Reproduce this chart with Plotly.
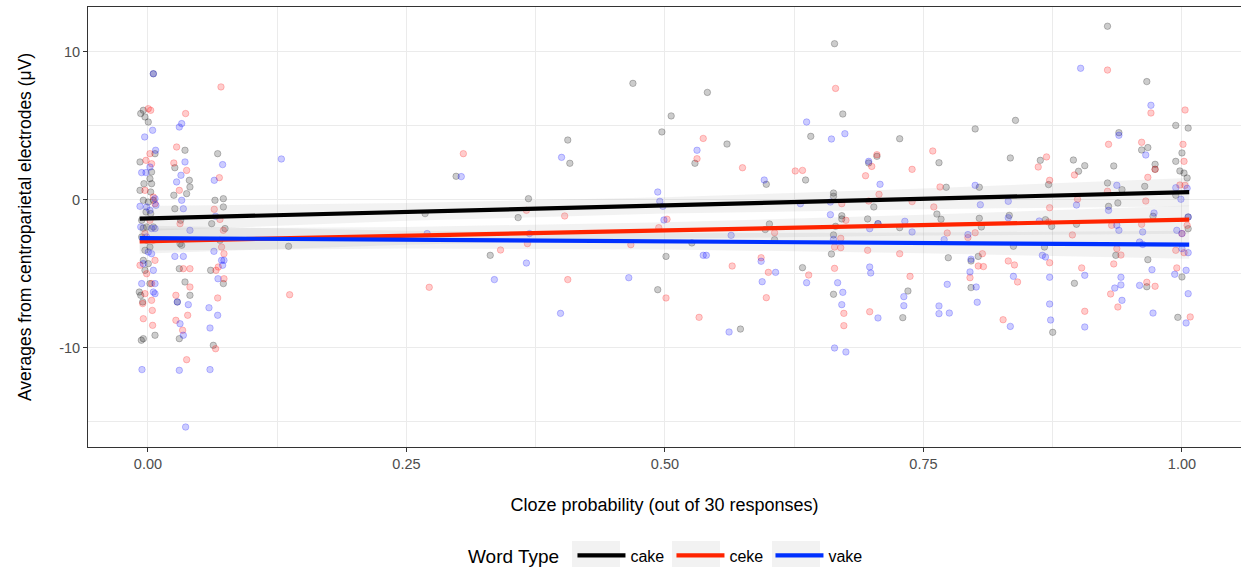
import plotly.graph_objects as go

# ---------------- data ----------------
cake_points = [
    (-0.0045, 6.06), (-0.007, 5.84), (-0.0029, 5.61), (0.0003, 5.27), (0.0068, 3.13), (-0.0077, 2.57),
    (0.0035, 1.89), (0.0019, 1.44), (-0.0039, 1.1), (0.0035, 1.1), (-0.0077, 0.65), (0.0026, 0.54),
    (-0.0045, -0.02), (0.0003, -0.14), (0.0052, -0.02), (-0.0019, -0.81), (0.0026, -0.92), (-0.0061, -1.37),
    (-0.0013, -1.82), (-0.0045, -1.9), (0.0052, -1.82), (-0.0061, -2.5), (-0.0013, -2.72), (0.0019, -3.18),
    (-0.0029, -3.4), (-0.0045, -4.08), (0.0003, -4.3), (-0.0029, -4.75), (0.0019, -5.65), (-0.0084, -6.22),
    (-0.007, -6.44), (-0.0051, -6.89), (-0.0064, -9.48), (-0.0045, -9.37), (0.0068, -9.14), (0.0052, 8.53),
    (0.0358, 3.36), (0.026, 2.18), (0.04, 1.33), (0.0406, 0.88), (0.0374, 0.43), (0.025, 0.32),
    (0.026, -0.59), (0.0316, -1.37), (0.031, -2.95), (0.0326, -3.06), (0.0303, -4.64), (0.0358, -5.54),
    (0.0406, -6.44), (0.0284, -6.89), (0.0303, -9.37),
    (0.0674, 3.13), (0.0729, 0.09), (0.0648, -0.02), (0.0729, -0.47), (0.0616, -1.6), (0.0745, -1.93),
    (0.0696, -2.72), (0.0729, -5.65), (0.0606, -4.75), (0.0632, -9.82),
    (0.136, -3.13), (0.298, 1.6), (0.268, -0.92), (0.331, -3.74), (0.358, -1.19), (0.368, 0.09),
    (0.406, 4.05), (0.408, 2.48), (0.469, 7.88), (0.497, 4.6), (0.506, 5.68), (0.501, -3.81),
    (0.493, -6.06), (0.541, 7.27), (0.529, 2.48), (0.526, -2.9), (0.56, 3.78), (0.573, -8.72),
    (0.598, 1.06), (0.601, -1.62), (0.597, -2.0), (0.606, -2.68), (0.636, 1.35), (0.633, -4.57),
    (0.641, 4.3), (0.664, 10.56), (0.672, 5.81), (0.663, 0.47), (0.663, 0.25), (0.671, -1.06),
    (0.671, -1.28), (0.665, -1.78), (0.663, -2.36), (0.661, -3.65), (0.663, -6.37), (0.705, 2.95),
    (0.697, 2.5), (0.702, -0.47), (0.696, -1.28), (0.706, -1.6), (0.727, 4.14), (0.727, -1.87),
    (0.735, -6.15), (0.73, -7.95), (0.765, 2.52), (0.772, 0.86), (0.763, -0.95), (0.767, -1.3),
    (0.774, -3.9), (0.8, 4.8), (0.804, 0.86), (0.804, -1.24), (0.806, -1.82), (0.803, -3.81),
    (0.796, -4.12), (0.796, -5.92), (0.839, 5.38), (0.834, 2.84), (0.833, -1.04), (0.837, -3.13),
    (0.863, 2.68), (0.871, 1.04), (0.868, -1.33), (0.874, -1.78), (0.867, -3.18), (0.875, -8.94),
    (0.895, 2.7), (0.906, 2.32), (0.9, 1.94), (0.898, -1.64), (0.896, -5.63), (0.928, 11.74),
    (0.934, 2.3), (0.939, 4.55), (0.928, 1.15), (0.942, 0.7), (0.938, -0.2), (0.929, -0.43),
    (0.936, -3.74), (0.966, 8.0), (0.967, 3.54), (0.961, 3.38), (0.974, 2.41), (0.974, 2.07),
    (0.964, 0.92), (0.972, -1.1), (0.967, -4.03), (0.966, -5.86), (0.994, 5.04), (1.006, 4.86),
    (1.0, 3.18), (0.994, 2.61), (0.998, 1.96), (1.002, 1.82), (1.005, 1.49), (0.994, 0.32),
    (1.006, -1.15), (1.006, -1.94), (1.0, -5.2), (0.996, -7.93),
]

ceke_points = [
    (0.0003, 6.17), (0.0026, 6.06), (0.0019, 3.13), (-0.0019, 2.68), (0.0035, 2.45), (-0.0029, 0.65),
    (0.0052, 0.2), (0.0068, -0.25), (0.0019, -1.37), (-0.0029, -2.27), (0.0052, -2.72), (-0.0077, -4.41),
    (0.0068, -4.08), (-0.0013, -4.98), (0.0035, -5.65), (-0.0029, -6.33), (0.0035, -6.78), (-0.0051, -7.0),
    (0.0042, -7.46), (-0.0045, -8.02), (0.0045, -8.47),
    (0.0364, 5.84), (0.0277, 3.58), (0.025, 2.5), (0.0374, 2.0), (0.0303, 0.65), (0.031, -1.6),
    (0.0342, -4.64), (0.0406, -4.64), (0.0406, -5.88), (0.027, -6.44), (0.027, -8.13), (0.0335, -8.8),
    (0.0384, -7.79), (0.0374, -10.79),
    (0.0706, 7.64), (0.069, 1.51), (0.0641, -0.63), (0.0696, -1.31), (0.0729, -2.05), (0.0712, -3.18),
    (0.0735, -3.63), (0.0658, -4.75), (0.068, -4.53), (0.0735, -5.32), (0.0674, -6.62), (0.0654, -10.05),
    (0.137, -6.4), (0.305, 3.13), (0.272, -5.9), (0.341, -3.38), (0.366, -0.7), (0.367, -2.95),
    (0.403, -1.08), (0.406, -5.38), (0.467, -3.02), (0.494, -1.87), (0.502, -1.3), (0.501, -6.62),
    (0.537, 4.16), (0.531, 2.79), (0.533, -7.93), (0.575, 2.18), (0.565, -4.46), (0.606, -2.21),
    (0.593, -3.9), (0.6, -4.89), (0.598, -6.6), (0.626, 1.96), (0.633, 2.0), (0.639, -5.07),
    (0.665, 7.54), (0.671, -0.25), (0.675, -1.37), (0.67, -2.59), (0.664, -3.18), (0.67, -3.22),
    (0.664, -4.62), (0.673, -7.66), (0.673, -8.49), (0.705, 3.06), (0.7, 2.27), (0.694, 1.64),
    (0.707, 0.38), (0.697, -0.07), (0.696, -3.4), (0.698, -7.55), (0.739, 2.07), (0.739, -0.11),
    (0.727, -3.63), (0.737, -5.16), (0.759, 3.31), (0.766, 0.88), (0.76, -0.47), (0.773, -2.23),
    (0.8, -2.21), (0.793, -2.54), (0.807, -3.63), (0.803, -4.46), (0.808, -4.5), (0.795, -5.25),
    (0.832, -4.12), (0.838, -4.39), (0.841, -5.54), (0.827, -8.09), (0.861, 2.23), (0.869, 2.91),
    (0.872, 1.33), (0.872, -0.52), (0.871, -1.49), (0.872, -4.24), (0.896, 1.69), (0.899, 0.05),
    (0.894, -2.36), (0.903, -4.59), (0.906, -7.52), (0.928, 8.78), (0.929, 3.76), (0.928, 0.59),
    (0.932, -1.71), (0.937, -3.29), (0.941, -3.72), (0.934, -4.32), (0.931, -6.35), (0.938, -7.23),
    (0.97, 5.88), (0.961, 3.9), (0.974, 2.07), (0.967, 1.53), (0.965, -0.07), (0.961, -1.64),
    (0.966, -5.56), (0.974, -5.83), (1.003, 6.08), (1.001, 3.76), (1.002, 2.61), (0.998, 1.01),
    (1.003, 0.99), (1.005, -1.71), (1.0, -2.27), (0.994, -3.4), (1.002, -3.56), (0.995, -4.59),
    (1.008, -7.9),
]

vake_points = [
    (0.0052, 8.53), (0.0045, 4.71), (-0.0032, 4.26), (0.0074, 3.36), (0.0019, 2.23), (-0.0061, 1.85),
    (-0.0019, 1.85), (0.0068, 0.09), (0.0077, -0.36), (-0.0077, -0.43), (-0.0013, -0.47), (0.0019, -0.7),
    (-0.007, -1.82), (0.0035, -1.93), (0.0068, -1.93), (-0.0013, -2.5), (0.0003, -3.51), (0.0035, -3.63),
    (-0.0045, -4.3), (0.0052, -4.75), (0.0068, -5.65), (-0.0061, -5.65), (0.0052, -6.22), (0.0068, -6.33),
    (-0.0058, -11.46),
    (0.0326, 5.16), (0.0303, 4.93), (0.0358, 2.57), (0.0319, 1.67), (0.0277, 1.22), (0.0326, -0.02),
    (0.0342, -0.59), (0.0406, -2.05), (0.026, -3.81), (0.0342, -3.81), (0.039, -7.07), (0.0284, -6.89),
    (0.031, -8.36), (0.0342, -9.14), (0.0303, -11.51), (0.0364, -15.34),
    (0.0722, 2.39), (0.0641, 1.33), (0.0654, -1.1), (0.0638, -3.47), (0.0712, -4.08), (0.0735, -4.08),
    (0.0722, -4.41), (0.0677, -5.32), (0.059, -7.28), (0.0674, -7.79), (0.06, -8.65), (0.06, -11.46),
    (0.129, 2.77), (0.303, 1.58), (0.27, -2.27), (0.335, -5.38), (0.369, -2.27), (0.366, -4.26),
    (0.4, 2.88), (0.399, -7.66), (0.465, -5.25), (0.493, 0.54), (0.495, -0.09), (0.498, -0.43),
    (0.499, -1.35), (0.531, 3.36), (0.537, -3.74), (0.54, -3.74), (0.564, -2.39), (0.562, -8.92),
    (0.596, 1.35), (0.593, -4.14), (0.607, -4.89), (0.594, -5.52), (0.631, -0.25), (0.637, -5.59),
    (0.637, 5.27), (0.661, 4.12), (0.674, 4.48), (0.66, -0.14), (0.66, -0.99), (0.663, -2.66),
    (0.667, -5.59), (0.672, -6.24), (0.671, -7.07), (0.664, -10.0), (0.675, -10.27), (0.697, 2.61),
    (0.708, 1.06), (0.706, -1.6), (0.698, -1.94), (0.698, -4.53), (0.699, -4.93), (0.706, -7.97),
    (0.732, -1.44), (0.739, -2.16), (0.731, -6.53), (0.731, -7.14), (0.77, -2.68), (0.773, -5.7),
    (0.765, -7.16), (0.765, -7.68), (0.775, -7.64), (0.8, 0.99), (0.805, -0.32), (0.793, -2.34),
    (0.796, -4.0), (0.795, -4.86), (0.801, -5.88), (0.802, -6.91), (0.832, -0.09), (0.832, -1.2),
    (0.837, -5.16), (0.834, -8.54), (0.862, -1.42), (0.865, -3.74), (0.868, -3.85), (0.872, -5.22),
    (0.872, -7.03), (0.873, -8.11), (0.898, -0.34), (0.906, -5.09), (0.906, -8.58), (0.902, 8.9),
    (0.939, 4.37), (0.937, 0.99), (0.929, -0.7), (0.937, -1.71), (0.939, -2.05), (0.941, -5.22),
    (0.941, -5.74), (0.935, -5.95), (0.942, -6.78), (0.97, 6.4), (0.965, 3.04), (0.973, -0.88),
    (0.962, -2.16), (0.959, -2.84), (0.962, -3.0), (0.971, -4.71), (0.959, -5.77), (0.972, -7.64),
    (0.994, 0.83), (1.005, 0.79), (0.999, 0.05), (1.006, -1.15), (0.995, -2.05), (1.0, -2.27),
    (1.0, -3.29), (1.006, -3.56), (0.993, -5.02), (1.004, -4.75), (1.006, -6.33), (1.004, -8.31),
]

word_types = ["cake", "ceke", "vake"]

# fitted line: x positions and fitted values, plus band half-widths
fit_x = [-0.008, 0.25, 0.5, 0.75, 1.007]
fit_cake = [-1.26, -0.81, -0.37, 0.08, 0.53]
fit_ceke = [-2.79, -2.42, -2.06, -1.70, -1.33]
fit_vake = [-2.57, -2.68, -2.79, -2.90, -3.02]
band_half = [0.85, 0.6, 0.55, 0.7, 0.95]

x_tick_vals = [0.0, 0.25, 0.5, 0.75, 1.0]
x_tick_text = ["0.00", "0.25", "0.50", "0.75", "1.00"]
y_tick_vals = [-10, 0, 10]
y_tick_text = ["-10", "0", "10"]
x_minor_vals = [0.125, 0.375, 0.625, 0.875]
y_minor_vals = [-15, -5, 5]

# ---------------- styling ----------------
point_rgb = {"cake": (0, 0, 0), "ceke": (255, 0, 0), "vake": (0, 0, 255)}
line_col = {"cake": "#000000", "ceke": "#FF2400", "vake": "#0030FF"}
series_pts = {"cake": cake_points, "ceke": ceke_points, "vake": vake_points}
series_fit = {"cake": fit_cake, "ceke": fit_ceke, "vake": fit_vake}

FONT = "Liberation Sans, Arial, Helvetica, sans-serif"

fig = go.Figure()

# points
for w in word_types:
    r, g, b = point_rgb[w]
    xs = [p[0] for p in series_pts[w]]
    ys = [p[1] for p in series_pts[w]]
    fig.add_trace(go.Scatter(
        x=xs, y=ys, mode="markers", showlegend=False, hoverinfo="skip",
        marker=dict(size=6.5, color=f"rgba({r},{g},{b},0.2)",
                    line=dict(color=f"rgba({r},{g},{b},0.22)", width=1)),
    ))

# confidence bands
for w in word_types:
    fv = series_fit[w]
    upper = [f + h for f, h in zip(fv, band_half)]
    lower = [f - h for f, h in zip(fv, band_half)]
    fig.add_trace(go.Scatter(
        x=fit_x + fit_x[::-1], y=upper + lower[::-1], mode="lines", fill="toself",
        fillcolor="rgba(153,153,153,0.13)", line=dict(width=0), showlegend=False,
        hoverinfo="skip",
    ))

# fitted lines
for w in word_types:
    fig.add_trace(go.Scatter(
        x=fit_x, y=series_fit[w], mode="lines", name=w,
        line=dict(color=line_col[w], width=4.2),
    ))

# grey legend-key backgrounds (ggplot style)
def px_to_paper_x(px):
    return (px - 88) / 1153.0

def py_to_paper_y(py):
    return (447 - py) / 440.0

key_boxes = [(572, 620), (672, 720), (772, 820)]
shapes = []
for x0, x1 in key_boxes:
    shapes.append(dict(type="rect", xref="paper", yref="paper",
                       x0=px_to_paper_x(x0), x1=px_to_paper_x(x1),
                       y0=py_to_paper_y(541), y1=py_to_paper_y(572),
                       fillcolor="#F2F2F2", line=dict(width=0), layer="below"))

fig.update_layout(
    width=1241, height=567,
    margin=dict(l=88, r=0, t=7, b=120, autoexpand=False),
    paper_bgcolor="white", plot_bgcolor="white",
    font=dict(family=FONT, color="#000000"),
    shapes=shapes,
    legend=dict(
        orientation="h", x=px_to_paper_x(466), xanchor="left", y=py_to_paper_y(556), yanchor="middle",
        title=dict(text="Word Type ", font=dict(size=19, color="#000000"), side="left"),
        font=dict(size=16, color="#000000"),
        entrywidth=36, entrywidthmode="pixels",
        itemwidth=48, tracegroupgap=0, bgcolor="rgba(0,0,0,0)",
    ),
    xaxis=dict(
        range=[-0.058, 1.0571], tickvals=x_tick_vals, ticktext=x_tick_text,
        showgrid=True, gridcolor="#EBEBEB", gridwidth=1.1,
        zeroline=False, showline=True, linecolor="#333333", linewidth=1, mirror=True,
        ticks="outside", ticklen=4, tickcolor="#333333", tickwidth=1,
        tickfont=dict(size=14.5, color="#4D4D4D"),
        minor=dict(tickvals=x_minor_vals, showgrid=True, gridcolor="#EBEBEB", gridwidth=0.6, ticks=""),
        title=dict(text="Cloze probability (out of 30 responses)", font=dict(size=18, color="#000000"),
                   standoff=26),
    ),
    yaxis=dict(
        range=[-16.69, 13.04], tickvals=y_tick_vals, ticktext=y_tick_text,
        showgrid=True, gridcolor="#EBEBEB", gridwidth=1.1,
        zeroline=False, showline=True, linecolor="#333333", linewidth=1, mirror=True,
        ticks="outside", ticklen=4, tickcolor="#333333", tickwidth=1,
        tickfont=dict(size=14.5, color="#4D4D4D"),
        minor=dict(tickvals=y_minor_vals, showgrid=True, gridcolor="#EBEBEB", gridwidth=0.6, ticks=""),
        title=dict(text="Averages from centroparietal electrodes (μV)", font=dict(size=17.5, color="#000000"),
                   standoff=23),
    ),
)

fig.write_html("out.html")
